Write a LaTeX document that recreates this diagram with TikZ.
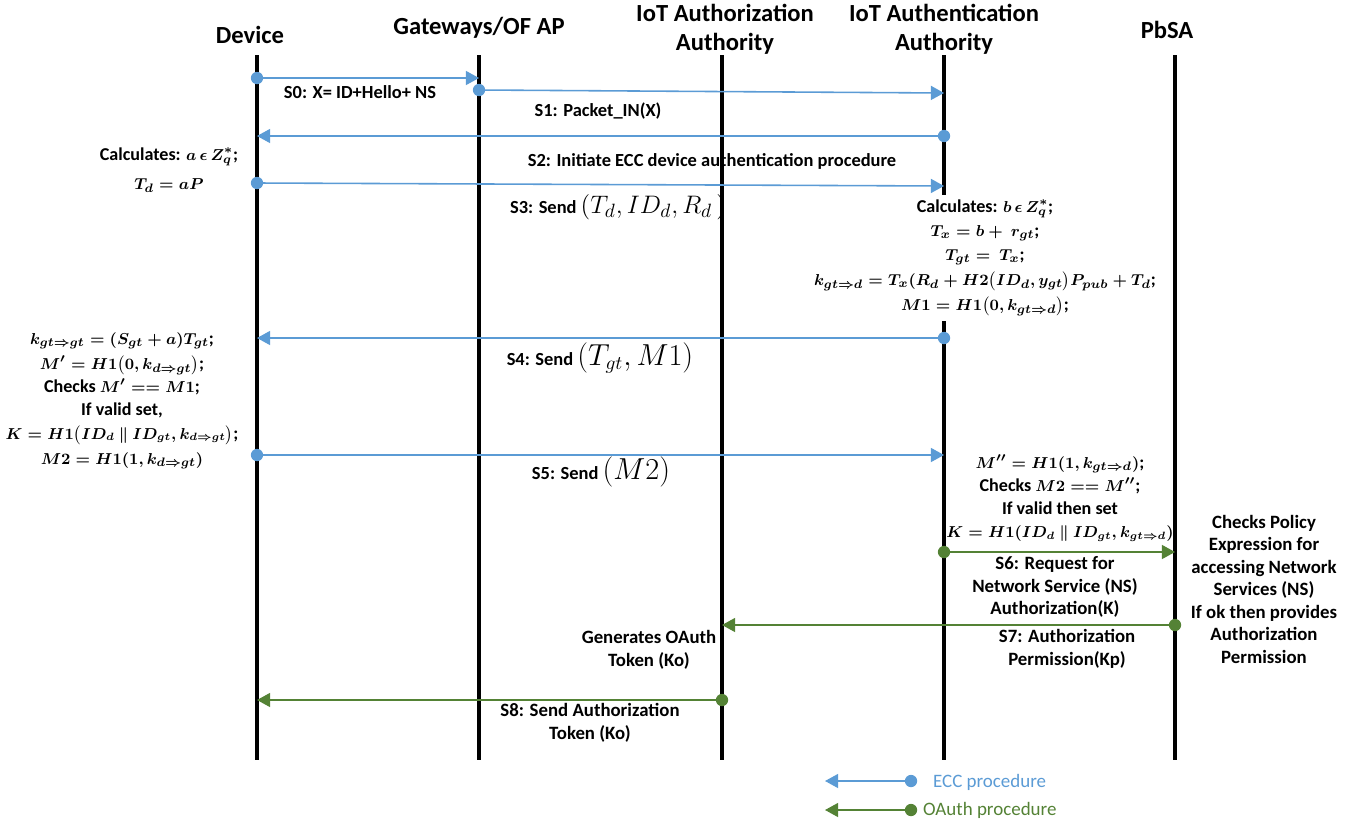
\documentclass[tikz,border=0pt]{standalone}
\usepackage{amsmath}
\usepackage{fontspec}
\setmainfont{Carlito}
\usetikzlibrary{arrows.meta}

\definecolor{eccblue}{RGB}{91,155,213}
\definecolor{oagreen}{RGB}{84,130,53}

% bold math set a little smaller than the surrounding text
\newcommand\fm[1]{{\fontsize{9.4}{13}\selectfont$#1$}}
% the same, tighter, for the long key formulas
\newcommand\fms[1]{{\fontsize{8.7}{13}\selectfont$#1$}}
% concatenation bar
\newcommand\cat{\mathbin{\|}}

\tikzset{
  lifeline/.style={line width=2.4pt, black},
  msg/.style={line width=0.9pt, -{Triangle[length=7.5pt,width=8pt]}},
  ecc/.style={msg, draw=eccblue},
  oauth/.style={msg, draw=oagreen},
  dotmark/.style={circle, inner sep=0pt, minimum size=7pt},
  eccdot/.style={dotmark, fill=eccblue},
  oadot/.style={dotmark, fill=oagreen},
  head/.style={font=\fontsize{14}{16.5}\selectfont\bfseries, align=center, inner sep=1pt},
  lbl/.style={font=\fontsize{10.5}{12.5}\selectfont\bfseries, align=center, inner sep=1pt},
  glbl/.style={font=\fontsize{10.7}{12.8}\selectfont\bfseries, align=center, inner sep=1pt},
  calc/.style={font=\fontsize{10.3}{13.2}\selectfont\bfseries\boldmath, align=center, inner sep=1pt},
  legend/.style={font=\fontsize{10.8}{12}\selectfont, anchor=west, inner sep=1pt},
}

\begin{document}
\begin{tikzpicture}[x=0.02cm, y=-0.02cm]
\useasboundingbox (0,0) rectangle (1356,825);

% participants
\node[head] (hdev) at (250,35) {Device};
\node[head] (hgw)  at (479,28) {Gateways/OF AP};
\node[head] (hauz) at (725,29) {IoT Authorization\\Authority};
\node[head] (haun) at (944,29) {IoT Authentication\\Authority};
\node[head] (hpb)  at (1167,30) {PbSA};

% lifelines
\coordinate (devT) at (257,55);  \coordinate (devB) at (257,760);
\coordinate (gwT)  at (479,55);  \coordinate (gwB)  at (479,760);
\coordinate (auzT) at (722,55);  \coordinate (auzB) at (722,760);
\coordinate (aunT) at (944,55);  \coordinate (aunB) at (944,760);
\coordinate (pbT)  at (1175,55); \coordinate (pbB)  at (1175,760);
\foreach \l in {dev,gw,auz,aun,pb}
  \draw[lifeline] (\l T) -- (\l B);

% message end points
\coordinate (s0a) at (257,78);  \coordinate (s0b) at (479,78);
\coordinate (s1a) at (479,90);  \coordinate (s1b) at (944,93);
\coordinate (s2a) at (944,136); \coordinate (s2b) at (257,136);
\coordinate (s3a) at (257,183); \coordinate (s3b) at (944,186);
\coordinate (s4a) at (944,338); \coordinate (s4b) at (257,338);
\coordinate (s5a) at (257,455); \coordinate (s5b) at (944,455);
\coordinate (s6a) at (944,552); \coordinate (s6b) at (1175,552);
\coordinate (s7a) at (1175,625);\coordinate (s7b) at (722,625);
\coordinate (s8a) at (722,700); \coordinate (s8b) at (257,700);

% ECC messages
\draw[ecc] (s0a) -- (s0b);
\draw[ecc] (s1a) -- (s1b);
\draw[ecc] (s2a) -- (s2b);
\draw[ecc] (s3a) -- (s3b);
\draw[ecc] (s4a) -- (s4b);
\draw[ecc] (s5a) -- (s5b);
\foreach \p in {s0a,s1a,s2a,s3a,s4a,s5a}
  \node[eccdot] at (\p) {};

% OAuth messages
\draw[oauth] (s6a) -- (s6b);
\draw[oauth] (s7a) -- (s7b);
\draw[oauth] (s8a) -- (s8b);
\foreach \p in {s6a,s7a,s8a}
  \node[oadot] at (\p) {};

% message labels
\node[lbl] (l0) at (360,92)  {S0: X= ID+Hello+ NS};
\node[lbl] (l1) at (598,111) {S1: Packet\_IN(X)};
\node[lbl] (l2) at (712,161) {S2: Initiate ECC device authentication procedure};
\node[lbl] (l3) at (618,207) {S3: Send {\fontsize{15}{15}\selectfont$(T_d, ID_d, R_d\,)$}};
\node[lbl] (l4) at (600,358) {S4: Send {\fontsize{16}{16}\selectfont$(T_{gt}, M1)$}};
\node[lbl] (l5) at (601,472) {S5: Send {\fontsize{16}{16}\selectfont$(M2)$}};
\node[glbl] (l6) at (1055,587) {S6: Request for\\Network Service (NS)\\Authorization(K)};
\node[glbl] (l7) at (1067,649) {S7: Authorization\\Permission(Kp)};
\node[glbl] (l8) at (590,723) {S8: Send Authorization\\Token (Ko)};

% computations at the participants
\node[calc] (cdev1) at (169,170) {Calculates: \fm{a \,\epsilon\, Z_q^{*}};\\[3pt] \fm{T_d = aP}};
\node[calc, fill=white, inner sep=3pt] (caun1) at (985,258)
  {Calculates: \fm{b \,\epsilon\, Z_q^{*}};\\[0.5pt]
   \fm{T_x = b +\ r_{gt}};\\[0.5pt]
   \fm{T_{gt} =\ T_x};\\[1pt]
   \fm{k_{gt\Rightarrow d} = T_x(R_d + H2\big(ID_d, y_{gt}\big)P_{pub} + T_d};\\[1pt]
   \fm{M1 = H1\big(0, k_{gt\Rightarrow d}\big)};};
\node[calc] (cdev2) at (122,401)
  {\fm{k_{gt\Rightarrow gt} = (S_{gt} + a)T_{gt}};\\[1pt]
   \fm{M' = H1\big(0, k_{d\Rightarrow gt}\big)};\\
   Checks \fm{M' == M1};\\
   If valid set,\\
   \fms{K = H1\big(ID_d \cat ID_{gt}, k_{d\Rightarrow gt}\big)};\\[1pt]
   \fm{M2 = H1(1, k_{d\Rightarrow gt})}};
\node[calc] (caun2) at (1060,498)
  {\fm{M'' = H1(1, k_{gt\Rightarrow d})};\\
   Checks \fm{M2 == M''};\\
   If valid then set\\
   \fms{K = H1(ID_d \cat ID_{gt}, k_{gt\Rightarrow d})}};
\node[glbl] (cpb) at (1264,589)
  {Checks Policy\\Expression for\\accessing Network\\Services (NS)\\If ok then provides\\Authorization\\Permission};
\node[glbl] (cauz) at (649,650) {Generates OAuth\\Token (Ko)};

% legend
\coordinate (lg1a) at (911,781); \coordinate (lg1b) at (825,781);
\coordinate (lg2a) at (911,810); \coordinate (lg2b) at (825,810);
\draw[ecc] (lg1a) -- (lg1b);
\draw[oauth] (lg2a) -- (lg2b);
\node[eccdot] at (lg1a) {};
\node[oadot] at (lg2a) {};
\node[legend, text=eccblue] (lgt1) at (931,782) {ECC procedure};
\node[legend, text=oagreen] (lgt2) at (921,810) {OAuth procedure};
\end{tikzpicture}
\end{document}
